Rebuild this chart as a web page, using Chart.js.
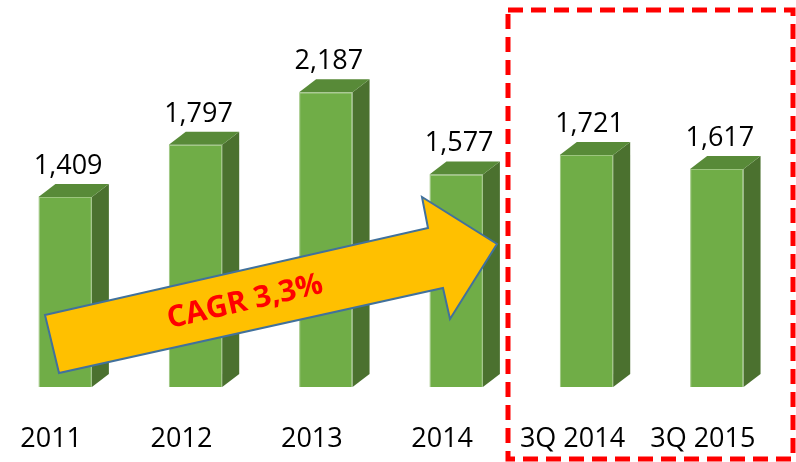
<!DOCTYPE html>
<html>
<head>
<meta charset="utf-8">
<script src="https://cdn.jsdelivr.net/npm/chart.js@4.4.0/dist/chart.umd.min.js"></script>
<style>
  html, body { margin: 0; padding: 0; background: #fff; }
  #wrap { width: 796px; height: 462px; position: relative; }
</style>
</head>
<body>
<div id="wrap"><canvas id="salesChart"></canvas></div>
<script>
const periods = ['2011', '2012', '2013', '2014', '3Q 2014', '3Q 2015'];
const volumes = [1409, 1797, 2187, 1577, 1721, 1617];
const valueLabels = ['1,409', '1,797', '2,187', '1,577', '1,721', '1,617'];
const cagrText = 'CAGR 3,3%';

const depthX = 17;
const depthY = 13;

// fake 3d: side + top faces, value labels, arrow and dashed box
const extrasPlugin = {
    id: 'extras',
    afterDatasetsDraw(chart) {
        const ctx = chart.ctx;
        const bars = chart.getDatasetMeta(0).data;
        ctx.save();
        bars.forEach((bar, i) => {
            const half = bar.width / 2;
            const left = bar.x - half;
            const right = bar.x + half;
            // side
            ctx.fillStyle = '#4B712F';
            ctx.beginPath();
            ctx.moveTo(right, bar.y);
            ctx.lineTo(right + depthX, bar.y - depthY);
            ctx.lineTo(right + depthX, bar.base - depthY);
            ctx.lineTo(right, bar.base);
            ctx.closePath();
            ctx.fill();
            // top
            ctx.fillStyle = '#588A38';
            ctx.beginPath();
            ctx.moveTo(left, bar.y);
            ctx.lineTo(left + depthX, bar.y - depthY);
            ctx.lineTo(right + depthX, bar.y - depthY);
            ctx.lineTo(right, bar.y);
            ctx.closePath();
            ctx.fill();

            ctx.fillStyle = '#000';
            ctx.font = '27px "Open Sans"';
            ctx.textAlign = 'center';
            ctx.textBaseline = 'alphabetic';
            ctx.fillText(valueLabels[i], bar.x + 3, bar.y - depthY - 10);
        });

        // growth arrow
        ctx.beginPath();
        ctx.moveTo(45, 315);
        ctx.lineTo(428, 228);
        ctx.lineTo(422, 197);
        ctx.lineTo(497, 244);
        ctx.lineTo(450, 319);
        ctx.lineTo(443, 288);
        ctx.lineTo(59, 373);
        ctx.closePath();
        ctx.fillStyle = '#FFC000';
        ctx.fill();
        ctx.lineWidth = 2;
        ctx.strokeStyle = '#41719C';
        ctx.stroke();

        ctx.save();
        ctx.translate(245, 302);
        ctx.rotate(-13 * Math.PI / 180);
        ctx.fillStyle = '#FF0000';
        ctx.font = 'bold 30px "Open Sans"';
        ctx.textAlign = 'center';
        ctx.textBaseline = 'middle';
        ctx.fillText(cagrText, 0, 0);
        ctx.restore();

        // dashed box round the quarterly bars
        ctx.setLineDash([15, 8]);
        ctx.lineWidth = 5;
        ctx.strokeStyle = '#FF0000';
        ctx.strokeRect(508, 10, 285, 449);
        ctx.restore();
    }
};

new Chart(document.getElementById('salesChart').getContext('2d'), {
    type: 'bar',
    data: {
        labels: periods,
        datasets: [{
            data: volumes,
            backgroundColor: '#70AD47',
            borderColor: '#9CC57E',
            borderWidth: 1,
            categoryPercentage: 1,
            barPercentage: 0.41
        }]
    },
    options: {
        responsive: true,
        maintainAspectRatio: false,
        animation: false,
        layout: { padding: { top: 50, right: 14, bottom: 9, left: 0 } },
        plugins: {
            legend: { display: false },
            tooltip: { enabled: false }
        },
        scales: {
            x: {
                grid: { display: false, drawTicks: false },
                border: { display: false },
                afterFit(scale) {
                    scale.height = 66;
                    scale.paddingLeft = 0;
                    scale.paddingRight = 0;
                },
                ticks: {
                    color: '#000',
                    padding: 36,
                    labelOffset: -14,
                    font: { family: 'Open Sans', size: 27 }
                }
            },
            y: {
                display: false,
                min: 0,
                max: 2500
            }
        }
    },
    plugins: [extrasPlugin]
});
</script>
</body>
</html>
